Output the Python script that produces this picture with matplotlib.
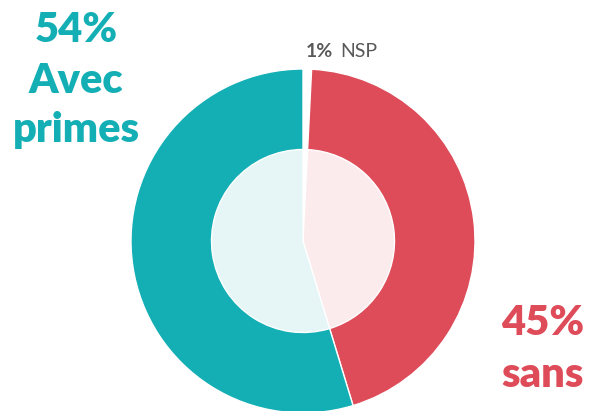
import matplotlib.pyplot as plt

labels = ["NSP", "sans", "Avec primes"]
values = [0.8, 44.5, 54.7]

outer_colors = ["#FFFFFF", "#DE4C5A", "#13AFB5"]
inner_colors = ["#FFFFFF", "#FBEBEC", "#E6F5F6"]

teal = "#13AFB5"
red = "#DE4C5A"
grey = "#595959"

plt.rcParams['font.family'] = ['Lato', 'DejaVu Sans']

fig = plt.figure(figsize=(5.89, 4.11), dpi=100)
ax = fig.add_axes([0, 0, 1, 1])

cx, cy = 303, 170

# outer ring
ax.pie(values, colors=outer_colors, startangle=90, counterclock=False,
       center=(cx, cy), radius=172, frame=True,
       wedgeprops=dict(edgecolor="white", linewidth=1))
# lighter inner disc
ax.pie(values, colors=inner_colors, startangle=90, counterclock=False,
       center=(cx, cy), radius=91.5, frame=True,
       wedgeprops=dict(edgecolor="white", linewidth=1))
ax.set_xlim(0, 589)
ax.set_ylim(0, 411)
ax.set_aspect('equal')
ax.axis('off')

# labels
ax.text(76, 369, "54%", color=teal, fontsize=30, fontweight='heavy', ha='center', va='baseline')
ax.text(76, 318, "Avec", color=teal, fontsize=30, fontweight='heavy', ha='center', va='baseline')
ax.text(76, 269, "primes", color=teal, fontsize=30, fontweight='heavy', ha='center', va='baseline')

ax.text(543, 76, "45%", color=red, fontsize=30, fontweight='heavy', ha='center', va='baseline')
ax.text(543, 24, "sans", color=red, fontsize=30, fontweight='heavy', ha='center', va='baseline')

ax.text(306, 354, "1%", color=grey, fontsize=14, fontweight='bold', ha='left', va='baseline')
ax.text(340, 354, "NSP", color=grey, fontsize=14, ha='left', va='baseline')

fig.savefig("out.png", dpi=100)
